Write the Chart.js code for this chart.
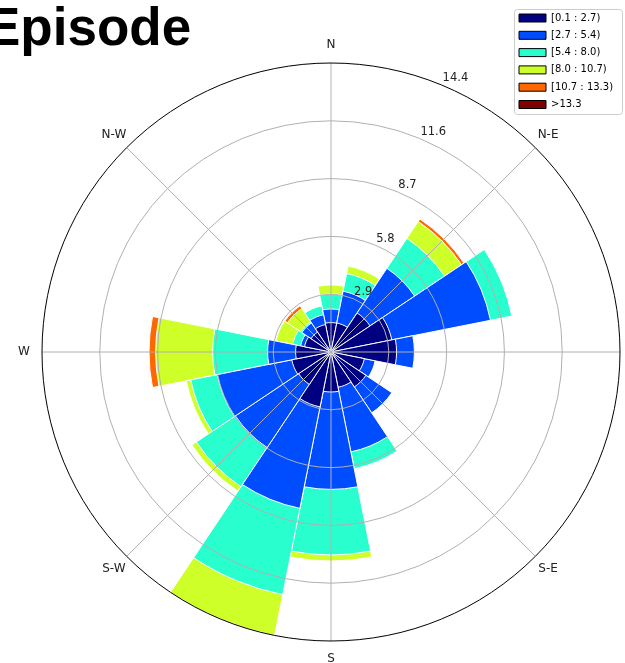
<!DOCTYPE html>
<html>
<head>
<meta charset="utf-8">
<title>Episode wind rose</title>
<script src="https://cdn.jsdelivr.net/npm/chart.js@4/dist/chart.umd.min.js"></script>
<style>
  html, body { margin: 0; padding: 0; background: #ffffff; overflow: hidden; width: 625px; height: 663px; }
  #wrap { position: relative; width: 625px; height: 663px; overflow: hidden; }
  #rose { position: absolute; left: -15px; top: 0; }
</style>
</head>
<body>
<div id="wrap"><canvas id="rose" width="692" height="663"></canvas></div>
<script>
// Wind directions (clockwise from north) and speed classes
const DIRECTIONS = ['N', 'NNE', 'NE', 'ENE', 'E', 'ESE', 'SE', 'SSE',
                    'S', 'SSW', 'SW', 'WSW', 'W', 'WNW', 'NW', 'NNW'];
const SPEED_BINS = ['[0.1 : 2.7)', '[2.7 : 5.4)', '[5.4 : 8.0)',
                    '[8.0 : 10.7)', '[10.7 : 13.3)', '>13.3'];

// Frequency (%) of each speed class per direction
const FREQ_0_1_TO_2_7   = [1.47, 1.48, 2.35, 3.10, 3.28, 1.70, 2.10, 1.80, 2.00, 2.80, 1.95, 2.00, 1.77, 1.35, 1.20, 1.40];
const FREQ_2_7_TO_5_4   = [0.68, 1.62, 2.68, 5.03, 0.89, 0.55, 1.56, 3.29, 4.87, 5.17, 3.80, 3.80, 1.40, 0.20, 0.55, 0.50];
const FREQ_5_4_TO_8_0   = [0.75, 0.90, 1.80, 1.09, 0.00, 0.00, 0.00, 0.86, 3.28, 4.40, 2.35, 1.35, 2.75, 0.40, 0.07, 0.45];
const FREQ_8_0_TO_10_7  = [0.45, 0.38, 1.02, 0.00, 0.00, 0.00, 0.00, 0.00, 0.30, 2.08, 0.27, 0.23, 2.85, 0.85, 0.80, 0.00];
const FREQ_10_7_TO_13_3 = [0.00, 0.00, 0.15, 0.00, 0.00, 0.00, 0.00, 0.00, 0.00, 0.00, 0.00, 0.00, 0.33, 0.00, 0.16, 0.00];
const FREQ_ABOVE_13_3   = [0, 0, 0, 0, 0, 0, 0, 0, 0, 0, 0, 0, 0, 0, 0, 0];

// Radial axis
const RADIAL_MAX = 14.45;
const RING_LABELS = ['2.9', '5.8', '8.7', '11.6', '14.4'];
const COMPASS_LABELS = ['N', 'N-E', 'E', 'S-E', 'S', 'S-W', 'W', 'N-W'];

const BIN_COLORS = ['#000080', '#004cff', '#29ffce', '#ceff29', '#ff6800', '#7f0000'];

const BIN_SERIES = [FREQ_0_1_TO_2_7, FREQ_2_7_TO_5_4, FREQ_5_4_TO_8_0,
                    FREQ_8_0_TO_10_7, FREQ_10_7_TO_13_3, FREQ_ABOVE_13_3];

// Stacked petals: each class is drawn as an arc reaching the running total
const CUMULATIVE = BIN_SERIES.map((_, j) =>
  DIRECTIONS.map((_, i) => BIN_SERIES.slice(0, j + 1).reduce((s, arr) => s + arr[i], 0)));

const LEGEND_POS = { x: 526.7, y: 5.7 };
const LABEL_GAP = 18;
const RING_LABEL_ANGLE = 22.5;

const toCanvasAngle = (deg) => (deg - 90) * Math.PI / 180;

const roseDecor = {
  id: 'roseDecor',
  afterLayout(chart) {
    const lg = chart.legend;
    if (!lg) return;
    lg.left = LEGEND_POS.x;
    lg.top = LEGEND_POS.y;
    lg.right = lg.left + lg.width;
    lg.bottom = lg.top + lg.height;
  },
  beforeDraw(chart) {
    // legend frame
    const ctx = chart.ctx;
    const x = LEGEND_POS.x + 2.8, y = LEGEND_POS.y + 3.8;
    ctx.save();
    ctx.fillStyle = '#ffffff';
    ctx.strokeStyle = '#cccccc';
    ctx.lineWidth = 1;
    ctx.beginPath();
    ctx.roundRect(x, y, 108, 105, 3);
    ctx.fill();
    ctx.stroke();
    ctx.restore();
  },
  afterDatasetsDraw(chart) {
    // compass spokes every 45 degrees
    const s = chart.scales.r, ctx = chart.ctx;
    ctx.save();
    ctx.strokeStyle = '#b0b0b0';
    ctx.lineWidth = 1;
    for (let k = 0; k < COMPASS_LABELS.length; k++) {
      const a = toCanvasAngle(k * 45);
      ctx.beginPath();
      ctx.moveTo(s.xCenter, s.yCenter);
      ctx.lineTo(s.xCenter + s.drawingArea * Math.cos(a), s.yCenter + s.drawingArea * Math.sin(a));
      ctx.stroke();
    }
    ctx.restore();
  },
  afterDraw(chart) {
    const s = chart.scales.r, ctx = chart.ctx;
    ctx.save();
    ctx.fillStyle = '#222222';
    // compass labels
    ctx.font = '12px "DejaVu Sans"';
    ctx.textAlign = 'center';
    ctx.textBaseline = 'middle';
    const rl = s.drawingArea + LABEL_GAP;
    COMPASS_LABELS.forEach((t, k) => {
      const a = toCanvasAngle(k * 45);
      ctx.fillText(t, s.xCenter + rl * Math.cos(a), s.yCenter + rl * Math.sin(a));
    });
    // ring values
    ctx.font = '11.5px "DejaVu Sans"';
    ctx.textAlign = 'left';
    ctx.textBaseline = 'alphabetic';
    const a = toCanvasAngle(RING_LABEL_ANGLE);
    s.ticks.forEach((tick, i) => {
      if (i === 0) return;
      const r = s.getDistanceFromCenterForValue(tick.value);
      ctx.fillText(tick.label, s.xCenter + r * Math.cos(a) + 1, s.yCenter + r * Math.sin(a) - 3.5);
    });
    ctx.restore();
  }
};

new Chart(document.getElementById('rose'), {
  type: 'polarArea',
  data: {
    labels: DIRECTIONS,
    datasets: SPEED_BINS.map((label, j) => ({
      label,
      data: CUMULATIVE[j],
      backgroundColor: (c) => BIN_SERIES[j][c.dataIndex] > 0 ? BIN_COLORS[j] : 'rgba(0,0,0,0)',
      borderColor: '#ffffff',
      borderWidth: (c) => BIN_SERIES[j][c.dataIndex] > 0 ? 1 : 0
    }))
  },
  options: {
    responsive: false,
    devicePixelRatio: 1,
    animation: false,
    events: [],
    layout: { padding: { left: 0, right: 0, top: 0, bottom: 22 } },
    scales: {
      r: {
        min: 0,
        max: RADIAL_MAX,
        startAngle: -11.25,
        ticks: {
          display: false,
          count: RING_LABELS.length + 1,
          callback: (v, i) => (i > 0 ? RING_LABELS[i - 1] : '')
        },
        grid: {
          circular: true,
          z: 1,
          lineWidth: 1,
          color: (c) => (c.tick && c.tick.value >= RADIAL_MAX - 1e-6 ? '#000000' : '#b0b0b0')
        },
        angleLines: { display: false },
        pointLabels: { display: false }
      }
    },
    plugins: {
      tooltip: { enabled: false },
      title: {
        display: true,
        text: 'Episode',
        align: 'start',
        color: '#000000',
        font: { family: '"Liberation Sans", Arial, sans-serif', weight: 'bold', size: 53, lineHeight: 1 },
        padding: { top: 4, bottom: 6 }
      },
      legend: {
        display: true,
        position: 'chartArea',
        align: 'start',
        labels: {
          boxWidth: 27,
          boxHeight: 8,
          padding: 7.3,
          color: '#222222',
          font: { family: '"DejaVu Sans"', size: 10 },
          generateLabels: (chart) => chart.data.datasets.map((ds, i) => ({
            text: ds.label,
            fillStyle: BIN_COLORS[i],
            strokeStyle: '#000000',
            lineWidth: 1,
            hidden: false,
            datasetIndex: i
          }))
        }
      }
    }
  },
  plugins: [roseDecor]
});
</script>
</body>
</html>
